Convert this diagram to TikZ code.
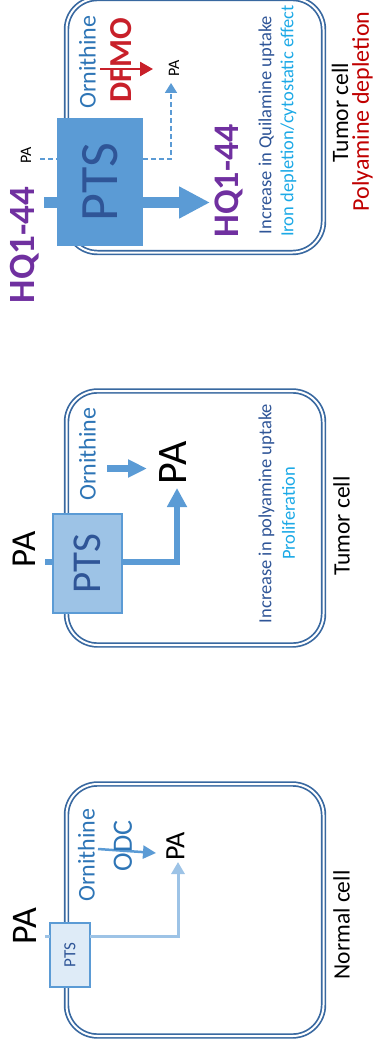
\documentclass[tikz,border=0pt]{standalone}
\usepackage{fontspec}
\setmainfont{Carlito}
\usetikzlibrary{arrows.meta}
\definecolor{cellc}{HTML}{3868A0}
\definecolor{midblue}{HTML}{5B9BD5}
\definecolor{lightblue}{HTML}{9DC3E6}
\definecolor{paleblue}{HTML}{DEEBF7}
\definecolor{darkblue}{HTML}{2F5597}
\definecolor{ornblue}{HTML}{2E75B6}
\definecolor{cyanblue}{HTML}{1CA9E6}
\definecolor{hqpurple}{HTML}{7030A0}
\definecolor{dfred}{HTML}{C8202A}
\definecolor{pdred}{HTML}{C00000}
\begin{document}
\begin{tikzpicture}[x=1pt,y=-1pt,
  fs/.style={font=\fontsize{#1}{#1}\selectfont},
  lbl/.style={inner sep=0pt, outer sep=0pt, rotate=90},
  cell/.style={draw=cellc, double=white, double distance=2pt, line width=1.7pt, inner sep=0pt, rounded corners=31pt},
  ptsbox/.style={inner sep=0pt, outer sep=0pt, text=darkblue},
  conn/.style={draw=midblue},
]
\useasboundingbox (0,0) rectangle (374,1054);

% ---------------- Panel 1 (top) ----------------
\node[cell, minimum width=257pt, minimum height=254pt] (cell1) at (195,125.5) {};
\node[ptsbox, fill=midblue, minimum width=86pt, minimum height=128pt, fs=54] (pts1) at (100,182) {\rotatebox{90}{PTS}};
\coordinate (hqin) at (44,202.5);
\coordinate (hqtip) at (210,202.5);
\draw[conn, line width=11pt] (hqin) -- (pts1.west |- hqin);
\draw[conn, line width=11pt, -{Triangle[length=31pt,width=30pt]}] (pts1.east |- hqin) -- (hqtip);
\coordinate (pain) at (40,159);
\coordinate (patip) at (171,83);
\draw[conn, line width=1.8pt, dash pattern=on 5pt off 3pt] (pain) -- (pts1.west |- pain);
\draw[conn, line width=1.8pt, dash pattern=on 5pt off 3pt, -{Triangle[length=10pt,width=12pt]}] (pts1.east |- pain) -| (patip);
\node[lbl, text=hqpurple, font=\bfseries\fontsize{37}{37}\selectfont] (hqL) at (25,245) {HQ1-44};
\node[lbl, fs=16] (paS1) at (26,155) {PA};
\node[lbl, fs=24, text=ornblue] (orn1) at (87.5,62) {Ornithine};
\node[lbl, text=dfred, font=\bfseries\fontsize{32}{32}\selectfont] (dfmo) at (121.5,60) {DFMO};
\coordinate (dfa) at (100,69);
\coordinate (dfb) at (153,69);
\draw[draw=dfred, line width=2.5pt, -{Triangle[length=13pt,width=14pt]}] (dfa) -- (dfb);
\node[lbl, fs=16] (paS2) at (174,68) {PA};
\node[lbl, text=hqpurple, font=\bfseries\fontsize{36}{36}\selectfont] (hqR) at (229,181) {HQ1-44};
\node[lbl, fs=18.5, text=darkblue] (inc1) at (266.5,125) {Increase in Quilamine uptake};
\node[lbl, fs=18.5, text=cyanblue] (iron) at (288.5,121) {Iron depletion/cytostatic effect};
\node[lbl, fs=23.5] (tumor1) at (340,112.5) {Tumor cell};
\node[lbl, fs=24, text=pdred] (polyd) at (362.5,111.5) {Polyamine depletion};

% ---------------- Panel 2 (middle) ----------------
\node[cell, minimum width=257pt, minimum height=254pt] (cell2) at (195,518) {};
\node[ptsbox, fill=lightblue, draw=midblue, line width=1.5pt, minimum width=69pt, minimum height=99pt, fs=41] (pts2) at (87.5,563.5) {\rotatebox{90}{PTS}};
\coordinate (pa2in) at (45,562);
\coordinate (pa2tip) at (177,488);
\draw[conn, line width=6pt] (pa2in) -- (pts2.west |- pa2in);
\draw[conn, line width=6pt, -{Triangle[length=19pt,width=19pt]}] (pts2.east |- pa2in) -| (pa2tip);
\coordinate (o2a) at (107,468.5);
\coordinate (o2b) at (147,468.5);
\draw[conn, line width=7pt, -{Triangle[length=19pt,width=17pt]}] (o2a) -- (o2b);
\node[lbl, fs=35] (pa2o) at (24,549.5) {PA};
\node[lbl, fs=24, text=ornblue] (orn2) at (87.5,454) {Ornithine};
\node[lbl, fs=42] (pa2i) at (173,463) {PA};
\node[lbl, fs=18.5, text=darkblue] (inc2) at (266.5,513.5) {Increase in polyamine uptake};
\node[lbl, fs=18.5, text=cyanblue] (prolif) at (288.5,513.5) {Proliferation};
\node[lbl, fs=23.5] (tumor2) at (341.5,526) {Tumor cell};

% ---------------- Panel 3 (bottom) ----------------
\node[cell, minimum width=257pt, minimum height=252pt] (cell3) at (195,910) {};
\node[ptsbox, fill=paleblue, draw=midblue, line width=1.5pt, minimum width=40pt, minimum height=64pt, fs=17] (pts3) at (70,955) {\rotatebox{90}{PTS}};
\coordinate (pa3in) at (45,936);
\coordinate (pa3tip) at (178,862);
\draw[draw=lightblue, line width=3pt] (pa3in) -- (pts3.west |- pa3in);
\draw[draw=lightblue, line width=3pt, -{Triangle[length=12pt,width=13pt]}] (pts3.east |- pa3in) -| (pa3tip);
\coordinate (o3a) at (98,849);
\coordinate (o3b) at (156,853);
\draw[conn, line width=2.5pt, -{Triangle[length=13pt,width=13pt]}] (o3a) -- (o3b);
\node[lbl, fs=36] (pa3o) at (25,926.5) {PA};
\node[lbl, fs=24, text=ornblue] (orn3) at (86.5,855) {Ornithine};
\node[lbl, fs=28, text=ornblue] (odc) at (123,846) {ODC};
\node[lbl, fs=28] (pa3i) at (175.5,846.5) {PA};
\node[lbl, fs=23.5] (normal) at (341.5,925) {Normal cell};
\end{tikzpicture}
\end{document}
